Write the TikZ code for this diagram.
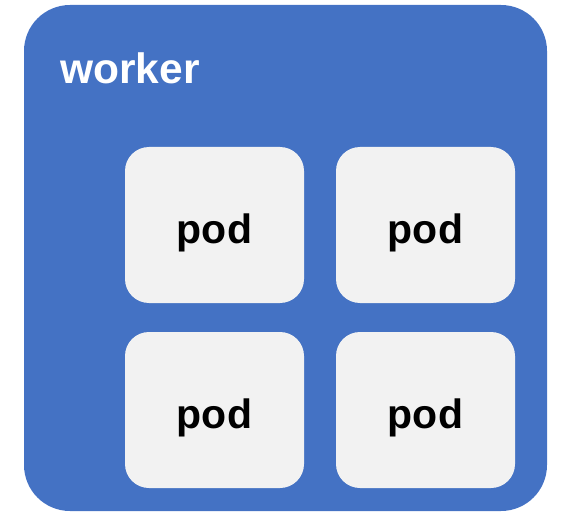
\documentclass[tikz,border=0pt]{standalone}
\usepackage{fontspec}
\setmainfont{Liberation Sans}
\definecolor{workerblue}{HTML}{4472C4}
\definecolor{podgrey}{HTML}{F2F2F2}
\begin{document}
\begin{tikzpicture}[x=1pt,y=-1pt,
  workerbox/.style={fill=workerblue, draw=none, rounded corners=46pt},
  podbox/.style={fill=podgrey, draw=none, rounded corners=24pt},
  podlabel/.style={anchor=base, inner sep=0pt, font=\fontsize{41}{48}\selectfont\bfseries, text=black},
  workerlabel/.style={anchor=base west, inner sep=0pt, font=\fontsize{42.5}{50}\selectfont\bfseries, text=white}]
  \useasboundingbox (0,0) rectangle (562,513);
  % worker node
  \path[workerbox] (24,5) rectangle (547,511);
  \node[workerlabel] (worker) at (60,84) {worker};
  % pods in a 2x2 grid
  \path[podbox] (125,147) rectangle (304,303);
  \path[podbox] (336,147) rectangle (515,303);
  \path[podbox] (125,332) rectangle (304,488);
  \path[podbox] (336,332) rectangle (515,488);
  \node[podlabel] (pod1) at (214.5,243) {pod};
  \node[podlabel] (pod2) at (425.5,243) {pod};
  \node[podlabel] (pod3) at (214.5,428) {pod};
  \node[podlabel] (pod4) at (425.5,428) {pod};
\end{tikzpicture}
\end{document}
